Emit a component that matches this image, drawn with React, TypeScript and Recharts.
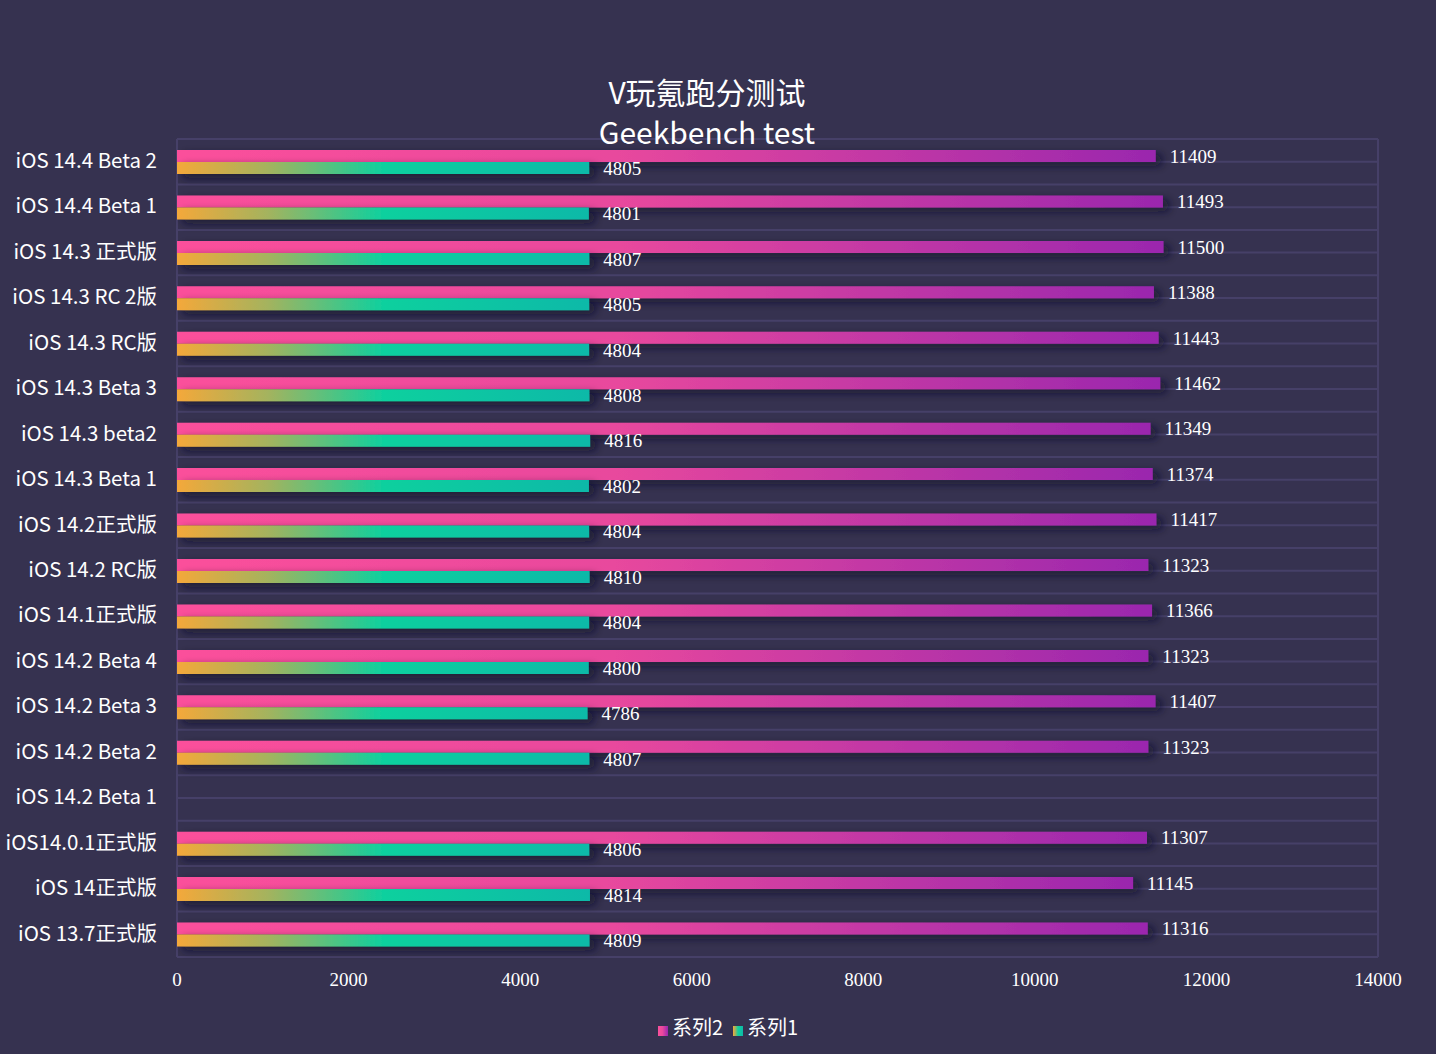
import React from 'react';
import { BarChart, Bar, XAxis, YAxis, CartesianGrid, Legend, LabelList, Rectangle } from 'recharts';

const categories = [
    'iOS 14.4 Beta 2',
    'iOS 14.4 Beta 1',
    'iOS 14.3 正式版',
    'iOS 14.3 RC 2版',
    'iOS 14.3 RC版',
    'iOS 14.3 Beta 3',
    'iOS 14.3 beta2',
    'iOS 14.3 Beta 1',
    'iOS 14.2正式版',
    'iOS 14.2 RC版',
    'iOS 14.1正式版',
    'iOS 14.2 Beta 4',
    'iOS 14.2 Beta 3',
    'iOS 14.2 Beta 2',
    'iOS 14.2 Beta 1',
    'iOS14.0.1正式版',
    'iOS 14正式版',
    'iOS 13.7正式版',
];

const series2 = [11409, 11493, 11500, 11388, 11443, 11462, 11349, 11374, 11417, 11323, 11366, 11323, 11407, 11323, null, 11307, 11145, 11316];
const series1 = [4805, 4801, 4807, 4805, 4804, 4808, 4816, 4802, 4804, 4810, 4804, 4800, 4786, 4807, null, 4806, 4814, 4809];

const xTicks = [0, 2000, 4000, 6000, 8000, 10000, 12000, 14000];

const data = categories.map((name, i) => ({ name, s2: series2[i], s1: series1[i] }));

const BG = '#363250';
const GRID = '#464068';
const SANS = '"Noto Sans CJK SC", "Noto Sans", sans-serif';
const SERIF = '"Liberation Serif", "DejaVu Serif", serif';

const ShadowBar = (props: any) => <Rectangle {...props} filter="url(#barShadow)" />;

const labelFormatter = (v: any) => (v == null ? '' : String(v));

// legend in drawing order: 系列2 then 系列1
const legendOrder = (item: any) => (item.dataKey === 's2' ? 0 : 1);

const App: React.FC = () => {
    return (
        <div style={{ position: 'absolute', left: 0, top: 0, width: 1436, height: 1054, background: BG, overflow: 'hidden' }}>
            <BarChart
                width={1436}
                height={1054}
                data={data}
                layout="vertical"
                margin={{ top: 139, right: 58, bottom: 13, left: 0 }}
                barSize={12}
                barGap={0}
            >
                <defs>
                    <linearGradient id="gradPink" x1="0" y1="0" x2="1" y2="0">
                        <stop offset="0%" stopColor="#FB509B" />
                        <stop offset="45%" stopColor="#E8489D" />
                        <stop offset="100%" stopColor="#9A27AE" />
                    </linearGradient>
                    <linearGradient id="gradTeal" x1="0" y1="0" x2="1" y2="0">
                        <stop offset="0%" stopColor="#F4A83A" />
                        <stop offset="22%" stopColor="#A4B35E" />
                        <stop offset="50%" stopColor="#0FD09E" />
                        <stop offset="100%" stopColor="#0EB9A8" />
                    </linearGradient>
                    <filter id="barShadow" x="-5%" y="-80%" width="115%" height="300%">
                        <feDropShadow dx="6" dy="4" stdDeviation="4" floodColor="#15122A" floodOpacity="0.7" />
                    </filter>
                </defs>
                <CartesianGrid
                    stroke={GRID}
                    strokeWidth={2}
                    horizontalCoordinatesGenerator={({ offset }: any) => {
                        const n = categories.length * 2;
                        const step = offset.height / n;
                        return Array.from({ length: n + 1 }, (_, i) => offset.top + i * step);
                    }}
                    verticalCoordinatesGenerator={({ offset }: any) => [offset.left, offset.left + offset.width]}
                />
                <XAxis
                    type="number"
                    domain={[0, 14000]}
                    ticks={xTicks}
                    axisLine={false}
                    tickLine={false}
                    height={55}
                    tickMargin={10}
                    tick={{ fill: '#FFFFFF', fontSize: 19, fontFamily: SERIF }}
                />
                <YAxis
                    type="category"
                    dataKey="name"
                    width={177}
                    interval={0}
                    axisLine={false}
                    tickLine={false}
                    tickMargin={14}
                    tick={{ fill: '#FFFFFF', fontSize: 20.5, fontFamily: SANS, dy: -1 }}
                />
                <Legend
                    verticalAlign="bottom"
                    align="center"
                    iconType="square"
                    iconSize={10}
                    itemSorter={legendOrder}
                    wrapperStyle={{ paddingLeft: 44 }}
                    formatter={(value: string) => (
                        <span style={{ color: '#FFFFFF', fontSize: 20, fontFamily: SANS }}>{value}</span>
                    )}
                />
                <Bar dataKey="s2" name="系列2" fill="url(#gradPink)" shape={ShadowBar} isAnimationActive={false}>
                    <LabelList
                        dataKey="s2"
                        position="right"
                        offset={14}
                        formatter={labelFormatter}
                        fill="#FFFFFF"
                        fontSize={19}
                        fontFamily={SERIF}
                    />
                </Bar>
                <Bar dataKey="s1" name="系列1" fill="url(#gradTeal)" shape={ShadowBar} isAnimationActive={false}>
                    <LabelList
                        dataKey="s1"
                        position="right"
                        offset={14}
                        formatter={labelFormatter}
                        fill="#FFFFFF"
                        fontSize={19}
                        fontFamily={SERIF}
                    />
                </Bar>
            </BarChart>
            <div
                style={{
                    position: 'absolute',
                    left: 0,
                    top: 71,
                    width: 1414,
                    textAlign: 'center',
                    color: '#FFFFFF',
                    fontFamily: SANS,
                    fontSize: 30,
                    lineHeight: '40px',
                    pointerEvents: 'none',
                }}
            >
                <div>V玩氪跑分测试</div>
                <div>Geekbench test</div>
            </div>
        </div>
    );
};

export default App;
